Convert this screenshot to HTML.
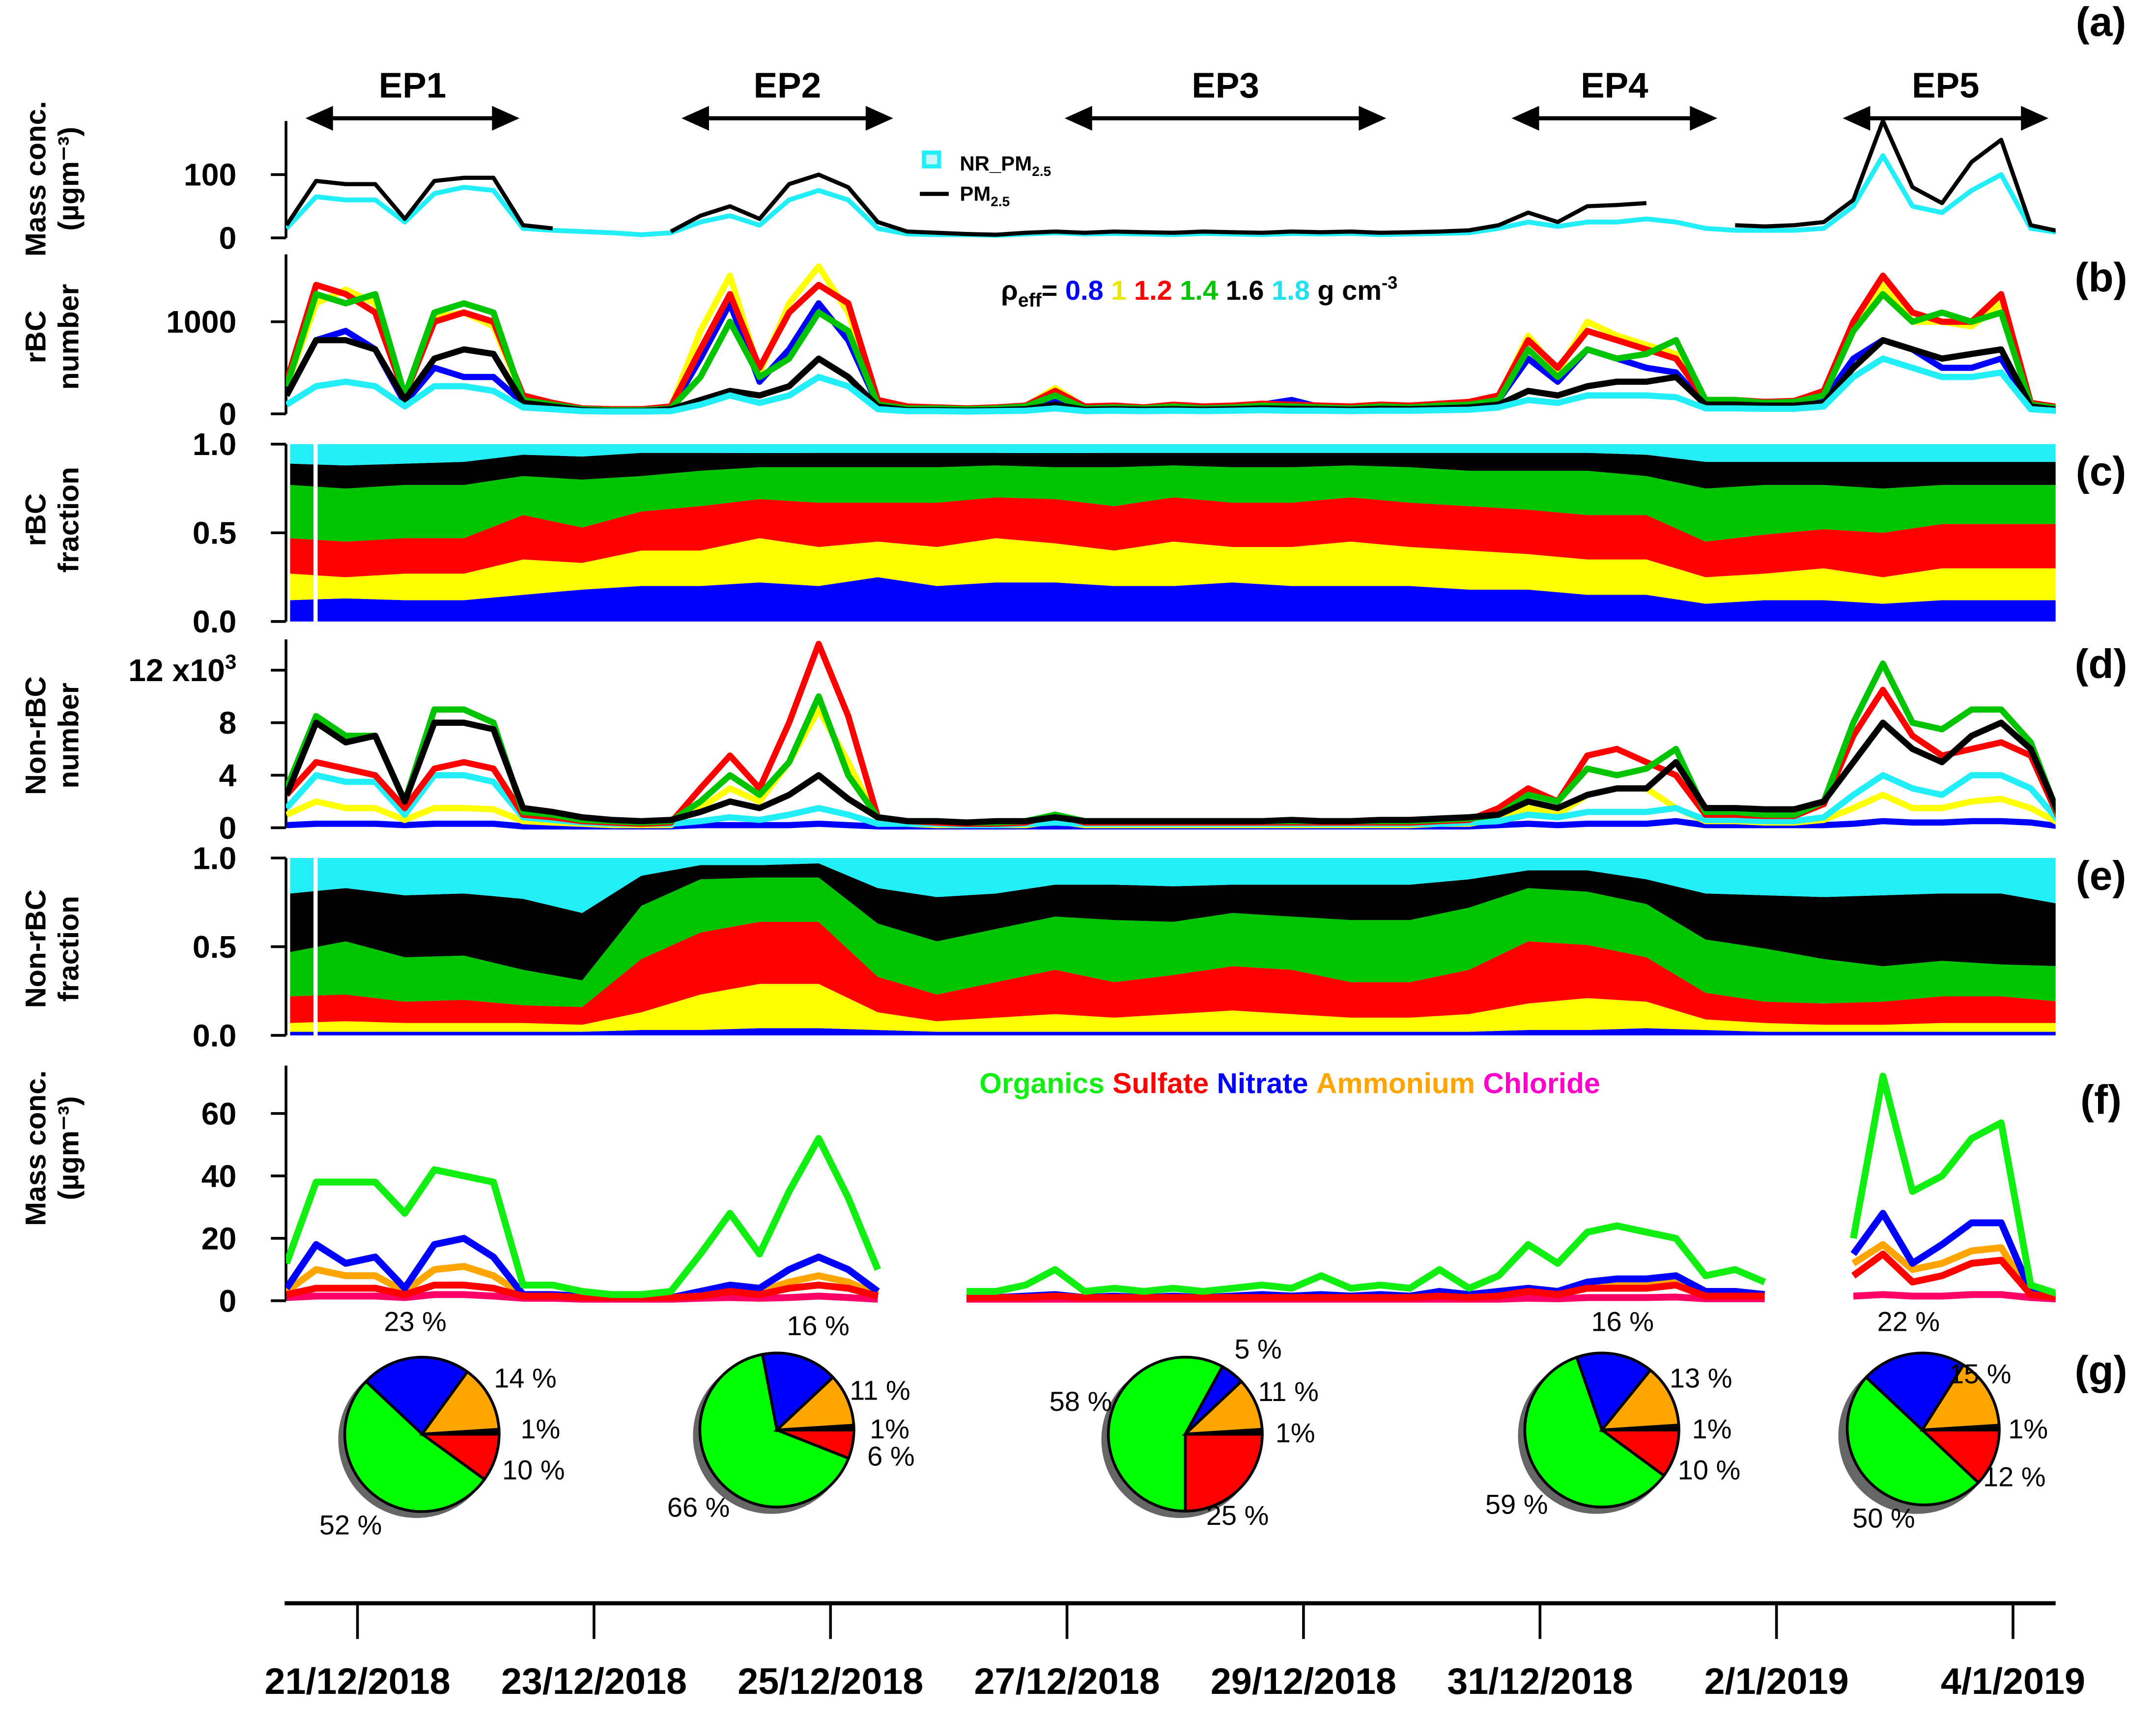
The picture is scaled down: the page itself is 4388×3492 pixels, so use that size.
<!DOCTYPE html>
<html><head><meta charset="utf-8"><title>rBC chart</title>
<style>
html,body{margin:0;padding:0;background:#fff;}
svg{display:block;}
text{font-family:"Liberation Sans Narrow","Liberation Sans",sans-serif;font-weight:bold;}
.tk{font-size:23px;}
.yl{font-family:"Liberation Sans",sans-serif;font-size:21px;font-weight:bold;}
.pl{font-family:"Liberation Sans",sans-serif;font-size:30px;font-weight:bold;}
.pct{font-weight:normal;font-size:20px;}
</style></head>
<body>
<svg id="chart" width="4388" height="3492" viewBox="0 0 1568 1248" preserveAspectRatio="none" xmlns="http://www.w3.org/2000/svg">
<defs><clipPath id="clip"><rect x="208" y="0" width="1287" height="1248"/></clipPath></defs>
<g id="root"></g>
</svg>
<script>
// ---- data (time grid: t = -0.6 + 0.25*i days since 21/12/2018) ----
const pm25 = [20,90,85,85,30,90,95,95,20,15, null,8,null,10,35,50,30,85,100,80, 25,10,8,6,5,8,10,8,10,9, 8,10,9,8,10,9,10,8,9,10, 12,20,40,25,50,52,55,null,null,20, 18,20,25,60,185,80,55,120,155,20,10];
const nrPm25 = [15,65,60,60,25,70,80,75,15,12, 10,8,5,8,25,35,20,60,75,60, 15,6,5,5,4,6,8,6,7,6, 5,7,6,5,7,6,7,5,6,7, 8,15,25,18,25,25,30,25,15,12, 12,12,15,50,130,50,40,75,100,15,8];

const rbcBlue = [200,800,900,700,120,500,400,400,120,80, 40,30,30,50,600,1200,350,700,1200,800, 100,50,50,40,50,70,150,60,80,50, 80,60,70,100,150,70,60,80,70,90, 100,150,600,350,700,600,500,450,100,100, 90,100,150,600,800,700,500,500,600,80,40];
const rbcYellow = [300,1200,1350,1200,180,1050,1100,950,180,110, 55,45,45,70,900,1500,450,1200,1600,1100, 130,70,60,55,60,80,280,70,80,60, 90,70,80,100,90,80,70,90,80,100, 120,180,850,450,1000,850,750,650,140,140, 120,130,220,950,1400,1000,1000,950,1200,110,60];
const rbcRed = [350,1400,1300,1100,200,1000,1100,1000,200,120, 60,50,50,80,700,1300,500,1100,1400,1200, 150,80,70,60,70,90,250,80,90,70, 100,80,90,110,100,90,80,100,90,110, 130,200,800,500,900,800,700,600,150,150, 130,140,250,1000,1500,1100,1000,1000,1300,120,70];
const rbcGreen = [300,1300,1200,1300,200,1100,1200,1100,150,100, 50,40,40,60,400,1000,400,600,1100,900, 100,60,60,50,60,80,200,60,70,60, 80,60,70,90,80,70,60,80,70,90, 100,150,700,400,700,600,650,800,150,150, 120,130,200,900,1300,1000,1100,1000,1100,100,60];
const rbcBlack = [200,800,800,700,150,600,700,650,120,80, 40,30,30,50,150,250,200,300,600,400, 80,40,40,35,40,50,100,45,50,45, 50,45,50,60,55,50,45,55,50,60, 70,100,250,200,300,350,350,400,100,100, 90,90,120,500,800,700,600,650,700,80,40];
const rbcCyan = [100,300,350,300,80,300,300,250,70,50, 30,25,25,30,100,200,120,200,400,300, 50,30,30,25,30,35,60,30,35,30, 35,30,35,40,35,35,30,35,35,40, 45,70,150,120,200,200,200,180,60,60, 55,55,80,400,600,500,400,400,450,50,30];

const nrbBlue = [0.2,0.3,0.3,0.3,0.2,0.3,0.3,0.3,0.1,0.1, 0.1,0.1,0.1,0.1,0.2,0.2,0.2,0.2,0.3,0.2, 0.1,0.1,0.1,0.1,0.1,0.1,0.1,0.1,0.1,0.1, 0.1,0.1,0.1,0.1,0.1,0.1,0.1,0.1,0.1,0.1, 0.1,0.2,0.3,0.2,0.3,0.3,0.3,0.5,0.2,0.2, 0.2,0.2,0.2,0.3,0.5,0.4,0.4,0.5,0.5,0.4,0.1];
const nrbYellow = [1,2,1.5,1.5,0.6,1.5,1.5,1.4,0.5,0.4, 0.3,0.2,0.2,0.2,1.5,3,2,5,9,5, 0.5,0.3,0.2,0.2,0.2,0.2,0.5,0.2,0.2,0.2, 0.2,0.2,0.2,0.2,0.2,0.2,0.2,0.2,0.2,0.3, 0.3,0.7,1.5,1,2.5,3,3,1.5,0.5,0.5, 0.4,0.4,0.6,1.5,2.5,1.5,1.5,2,2.2,1.5,0.3];
const nrbCyan = [1.5,4,3.5,3.5,1,4,4,3.5,0.8,0.6, 0.4,0.3,0.3,0.3,0.5,0.8,0.6,1,1.5,1, 0.3,0.3,0.3,0.2,0.2,0.3,0.4,0.3,0.3,0.3, 0.3,0.3,0.3,0.3,0.3,0.3,0.3,0.3,0.3,0.3, 0.4,0.5,1,0.8,1.2,1.2,1.2,1.5,0.6,0.6, 0.5,0.5,0.8,2.5,4,3,2.5,4,4,3,0.4];
const nrbRed = [2.5,5,4.5,4,1.5,4.5,5,4.5,1,0.8, 0.5,0.4,0.3,0.4,3,5.5,3,8,14,8.5, 0.8,0.5,0.4,0.3,0.3,0.4,1,0.4,0.4,0.4, 0.4,0.4,0.4,0.4,0.4,0.4,0.4,0.4,0.4,0.5, 0.6,1.5,3,2,5.5,6,5,4,1,1, 0.9,0.9,1.8,7,10.5,7,5.5,6,6.5,5.5,0.5];
const nrbGreen = [3,8.5,7,7,2,9,9,8,1.2,1, 0.6,0.5,0.4,0.5,2,4,2.5,5,10,4, 0.8,0.5,0.5,0.4,0.4,0.5,1,0.5,0.5,0.5, 0.5,0.5,0.5,0.5,0.5,0.5,0.5,0.5,0.5,0.6, 0.7,1,2.5,2,4.5,4,4.5,6,1.2,1.2, 1,1,2,8,12.5,8,7.5,9,9,6.5,0.6];
const nrbBlack = [2.5,8,6.5,7,2,8,8,7.5,1.5,1.2, 0.8,0.6,0.5,0.6,1.2,2,1.5,2.5,4,2.2, 0.8,0.5,0.5,0.4,0.5,0.5,0.8,0.5,0.5,0.5, 0.5,0.5,0.5,0.5,0.6,0.5,0.5,0.6,0.6,0.7, 0.8,1,2,1.5,2.5,3,3,5,1.5,1.5, 1.4,1.4,2,5,8,6,5,7,8,6,0.8];

const organics = [12,38,38,38,28,42,40,38,5,5, 3,2,2,3,15,28,15,35,52,33, 10,null,null,3,3,5,10,3,4,3, 4,3,4,5,4,8,4,5,4,10, 4,8,18,12,22,24,22,20,8,10, 6,null,null,20,72,35,40,52,57,5,2];
const nitrate = [4,18,12,14,4,18,20,14,2,2, 1.5,1,1,1,3,5,4,10,14,10, 3,null,null,1,1,1.5,2,1,1.5,1, 1.5,1,1.5,2,1.5,2,1.5,2,1.5,3, 2,3,4,3,6,7,7,8,3,3, 2,null,null,15,28,12,18,25,25,3,1.5];
const ammonium = [3,10,8,8,3,10,11,8,2,1.5, 1,1,1,1,2,4,3,6,8,6, 2,null,null,1,1,1,1.5,1,1,1, 1,1,1,1.5,1,1.5,1,1.5,1,2, 1.5,2,4,3,5,5,5,6,2,2, 2,null,null,12,18,10,12,16,17,2,1];
const sulfate = [2,4,4,4,2,5,5,4,1.5,1.5, 1,1,1,1,1.5,3,2,4,5,4, 1.5,null,null,1,1,1,1.5,1,1,1, 1,1,1,1,1,1,1,1,1,1.5, 1,1.5,3,2,4,4,4,5,1.5,1.5, 1.5,null,null,8,15,6,8,12,13,2,1];
const chloride = [1,1.5,1.5,1.5,1,2,2,1.5,0.8,0.8, 0.5,0.5,0.5,0.5,0.8,1,0.8,1,1.5,1, 0.5,null,null,0.5,0.5,0.5,0.5,0.5,0.5,0.5, 0.5,0.5,0.5,0.5,0.5,0.5,0.5,0.5,0.5,0.5, 0.5,0.5,0.8,0.6,1,1,1,1.2,0.6,0.6, 0.6,null,null,1.5,2,1.5,1.5,2,2,1,0.5];

// fraction grid: t = -0.6 + 0.5*i
const cBlue = [.12,.13,.12,.12,.15,.18,.2,.2,.22,.2,.25,.2,.22,.22,.2,.2,.22,.2,.2,.2,.18,.18,.15,.15,.1,.12,.12,.1,.12,.12,.12];
const cYellow = [.15,.12,.15,.15,.2,.15,.2,.2,.25,.22,.2,.22,.25,.22,.2,.25,.2,.22,.25,.22,.22,.2,.2,.2,.15,.15,.18,.15,.18,.18,.18];
const cRed = [.2,.2,.2,.2,.25,.2,.22,.25,.22,.25,.22,.25,.23,.25,.25,.25,.25,.25,.25,.25,.25,.25,.25,.25,.2,.22,.22,.25,.25,.25,.25];
const cGreen = [.3,.3,.3,.3,.22,.27,.2,.2,.18,.2,.2,.2,.18,.18,.22,.18,.2,.2,.18,.2,.2,.22,.25,.22,.3,.28,.25,.25,.22,.22,.22];
const cBlack = [.12,.13,.12,.13,.12,.13,.13,.1,.08,.08,.08,.08,.07,.08,.08,.07,.08,.08,.07,.08,.1,.1,.1,.12,.15,.13,.13,.15,.13,.13,.13];
const cCyan = [.11,.12,.11,.1,.06,.07,.05,.05,.05,.05,.05,.05,.05,.05,.05,.05,.05,.05,.05,.05,.05,.05,.05,.06,.1,.1,.1,.1,.1,.1,.1];

const eBlue = [.02,.02,.02,.02,.02,.02,.03,.03,.04,.04,.03,.02,.02,.02,.02,.02,.02,.02,.02,.02,.02,.03,.03,.04,.03,.02,.02,.02,.02,.02,.02];
const eYellow = [.05,.06,.05,.05,.05,.04,.1,.2,.25,.25,.1,.06,.08,.1,.08,.1,.12,.1,.08,.08,.1,.15,.18,.15,.06,.05,.04,.04,.05,.05,.05];
const eRed = [.15,.15,.12,.13,.1,.1,.3,.35,.35,.35,.2,.15,.2,.25,.2,.22,.25,.25,.2,.2,.25,.35,.3,.25,.15,.12,.12,.13,.15,.15,.12];
const eGreen = [.25,.3,.25,.25,.2,.15,.3,.3,.25,.25,.3,.3,.3,.3,.35,.3,.3,.3,.35,.35,.35,.3,.3,.3,.3,.3,.25,.2,.2,.18,.2];
const eBlack = [.33,.3,.35,.35,.4,.38,.17,.08,.07,.08,.2,.25,.2,.18,.2,.2,.16,.18,.2,.2,.16,.1,.12,.14,.26,.3,.35,.4,.38,.4,.35];
const eCyan = [.2,.17,.21,.2,.23,.31,.1,.04,.04,.03,.17,.22,.2,.15,.15,.16,.15,.15,.15,.15,.12,.07,.07,.12,.2,.21,.22,.21,.2,.2,.26];

const dateLabels = ["21/12/2018","23/12/2018","25/12/2018","27/12/2018","29/12/2018","31/12/2018","2/1/2019","4/1/2019"];
const dateTicks = [0,2,4,6,8,10,12,14];

const pieNames = ["EP1","EP2","EP3","EP4","EP5"];
const pieSulfate = [10,6,25,10,12];
const pieOrganics = [52,66,58,59,50];
const pieNitrate = [23,16,5,16,22];
const pieAmmonium = [14,11,11,13,15];
const pieChloride = [1,1,1,1,1];

const epStart = [-0.44,2.74,5.98,9.76,12.56];
const epEnd = [1.37,4.53,8.7,11.5,14.3];

// ---- scales ----
const T0 = -0.6, DT = 0.25, DT2 = 0.5;
const X = t => 260 + 86 * t;
const ya = v => 173 - 0.46 * v;
const yb = v => 301 - 0.067 * v;
const yc = f => 452 - 129 * f;
const yd = v => 602 - 9.55 * v;
const ye = f => 753 - 129 * f;
const yf = v => 946 - 2.27 * v;

const NS = "http://www.w3.org/2000/svg";
const root = document.getElementById('root');
function mk(tag, attrs, parent) {
  const e = document.createElementNS(NS, tag);
  for (const k in attrs) e.setAttribute(k, attrs[k]);
  (parent || root).appendChild(e);
  return e;
}
function txt(s, x, y, cls, anchor, parent) {
  const e = mk('text', {x: x, y: y, 'class': cls || 'tk', 'text-anchor': anchor || 'middle'}, parent);
  e.textContent = s;
  return e;
}
function linePath(arr, ys, dt) {
  let d = '', pen = false;
  arr.forEach((v, i) => {
    if (v === null) { pen = false; return; }
    d += (pen ? 'L' : 'M') + X(T0 + dt * i).toFixed(1) + ',' + ys(v).toFixed(1);
    pen = true;
  });
  return d;
}
function drawLine(arr, ys, color, w, name, parent) {
  const p = mk('path', {d: linePath(arr, ys, DT), fill: 'none', stroke: color, 'stroke-width': w, 'stroke-linejoin': 'round'}, parent);
  
  
  return p;
}
function yAxis(top, bottom, ticks, ys, labels, name) {
  const g = mk('g', {});
  
  
  mk('line', {x1: 208, y1: top, x2: 208, y2: bottom, stroke: '#000', 'stroke-width': 2}, g);
  ticks.forEach((v, i) => {
    mk('line', {x1: 197, y1: ys(v), x2: 208, y2: ys(v), stroke: '#000', 'stroke-width': 2}, g);
    txt(labels[i], 172, ys(v) + 8, 'tk', 'end', g);
  });
}
function yTitle(l1, l2, cy, name) {
  const g = mk('g', {transform: 'translate(0,' + cy + ') rotate(-90)'});
  
  
  txt(l1, 0, 33, 'yl', 'middle', g);
  const t2 = txt(l2, 0, 57, 'yl', 'middle', g);
  return t2;
}
function panelLabel(s, y) {
  const t = txt(s, 1528, y, 'pl', 'middle');
  
  
}
function stack(layers, colors, ys, name, x0) {
  const g = mk('g', {'clip-path': 'url(#clip)'});
  
  
  const n = layers[0].length;
  const cum = new Array(n).fill(0);
  layers.forEach((arr, k) => {
    const lo = cum.slice();
    arr.forEach((v, i) => cum[i] += v);
    let d = '';
    for (let i = 0; i < n; i++) d += (i ? 'L' : 'M') + Math.max(x0, X(T0 + DT2 * i)).toFixed(1) + ',' + ys(Math.min(1, cum[i])).toFixed(1);
    for (let i = n - 1; i >= 0; i--) d += 'L' + Math.max(x0, X(T0 + DT2 * i)).toFixed(1) + ',' + ys(lo[i]).toFixed(1);
    const p = mk('path', {d: d + 'Z', fill: colors[k], stroke: 'none'}, g);
    
    
  });
  mk('rect', {x: 228, y: ys(1) - 2, width: 3, height: ys(0) - ys(1) + 4, fill: '#fff'}, g);
}

const BLUE = '#0000ff', YEL = '#ffff00', RED = '#ff0000', GRN = '#00c400', BLK = '#000', CYN = '#22eef8';

// ---- panel (a) ----
yAxis(88, 173, [0, 100], ya, ['0', '100'], 'y-axis-a');
yTitle('Mass conc.', '(µgm\u207B\u00B3)', 130, 'y-axis-title-a');
const ga = mk('g', {'clip-path': 'url(#clip)'});


drawLine(nrPm25, ya, CYN, 3.5, 'nr-pm25-line', ga);
drawLine(pm25, ya, BLK, 3, 'pm25-line', ga);
// legend a
const la = mk('g', {});


mk('rect', {x: 672, y: 111, width: 11, height: 10, fill: '#c8f6fa', stroke: CYN, 'stroke-width': 3}, la);
const t1 = txt('', 698, 124, 'tk', 'start', la); t1.style.fontSize = '15px';
t1.innerHTML = 'NR_PM<tspan dy="4" font-size="10">2.5</tspan>';
mk('line', {x1: 669, y1: 141, x2: 690, y2: 141, stroke: '#000', 'stroke-width': 3}, la);
const t2 = txt('', 698, 146, 'tk', 'start', la); t2.style.fontSize = '15px';
t2.innerHTML = 'PM<tspan dy="4" font-size="10">2.5</tspan>';
// EP arrows
epStart.forEach((s, i) => {
  const g = mk('g', {});
  
  
  const x1 = X(s), x2 = X(epEnd[i]), y = 86;
  mk('line', {x1: x1 + 15, y1: y, x2: x2 - 15, y2: y, stroke: '#000', 'stroke-width': 3}, g);
  mk('polygon', {points: `${x1},${y} ${x1 + 20},${y - 9} ${x1 + 20},${y + 9}`, fill: '#000'}, g);
  mk('polygon', {points: `${x2},${y} ${x2 - 20},${y - 9} ${x2 - 20},${y + 9}`, fill: '#000'}, g);
  const t = txt(pieNames[i], (x1 + x2) / 2, y - 15, 'tk', 'middle', g); t.style.fontSize = '26px';
});
panelLabel('(a)', 26);

// ---- panel (b) ----
yAxis(185, 301, [0, 1000], yb, ['0', '1000'], 'y-axis-b');
yTitle('rBC', 'number', 245, 'y-axis-title-b');
const gb = mk('g', {'clip-path': 'url(#clip)'});


drawLine(rbcBlue, yb, BLUE, 4.5, 'rbc-number-0.8', gb);
drawLine(rbcYellow, yb, YEL, 4.5, 'rbc-number-1.0', gb);
drawLine(rbcRed, yb, RED, 4.5, 'rbc-number-1.2', gb);
drawLine(rbcGreen, yb, GRN, 4.5, 'rbc-number-1.4', gb);
drawLine(rbcBlack, yb, BLK, 4.5, 'rbc-number-1.6', gb);
drawLine(rbcCyan, yb, CYN, 4.5, 'rbc-number-1.8', gb);
const lb = txt('', 728, 218, 'tk', 'start');


lb.style.fontSize = '20px';
lb.innerHTML = 'ρ<tspan dy="5" font-size="14">eff</tspan><tspan dy="-5">= </tspan><tspan fill="#0000ff">0.8 </tspan><tspan fill="#e8e800">1 </tspan><tspan fill="#ff0000">1.2 </tspan><tspan fill="#00c400">1.4 </tspan><tspan fill="#000">1.6 </tspan><tspan fill="#22e0f0">1.8 </tspan>g cm<tspan dy="-8" font-size="13">-3</tspan>';
panelLabel('(b)', 212);

// ---- panel (c) ----
stack([cBlue, cYellow, cRed, cGreen, cBlack, cCyan], [BLUE, YEL, RED, GRN, BLK, CYN], yc, 'rbc-fraction-stack', 211);
yAxis(323, 452, [0, 0.5, 1], yc, ['0.0', '0.5', '1.0'], 'y-axis-c');
yTitle('rBC', 'fraction', 378, 'y-axis-title-c');
panelLabel('(c)', 353);

// ---- panel (d) ----
yAxis(465, 602, [0, 4, 8, 12], yd, ['0', '4', '8', ''], 'y-axis-d');
const t12 = txt('', 172, yd(12) + 8, 'tk', 'end');


t12.innerHTML = '12 x10<tspan dy="-9" font-size="15">3</tspan>';
yTitle('Non-rBC', 'number', 535, 'y-axis-title-d');
const gd = mk('g', {'clip-path': 'url(#clip)'});


drawLine(nrbBlue, yd, BLUE, 4.5, 'nonrbc-number-0.8', gd);
drawLine(nrbYellow, yd, YEL, 4.5, 'nonrbc-number-1.0', gd);
drawLine(nrbCyan, yd, CYN, 4.5, 'nonrbc-number-1.8', gd);
drawLine(nrbRed, yd, RED, 4.5, 'nonrbc-number-1.2', gd);
drawLine(nrbGreen, yd, GRN, 4.5, 'nonrbc-number-1.4', gd);
drawLine(nrbBlack, yd, BLK, 4.5, 'nonrbc-number-1.6', gd);
panelLabel('(d)', 493);

// ---- panel (e) ----
stack([eBlue, eYellow, eRed, eGreen, eBlack, eCyan], [BLUE, YEL, RED, GRN, BLK, CYN], ye, 'nonrbc-fraction-stack', 211);
yAxis(624, 753, [0, 0.5, 1], ye, ['0.0', '0.5', '1.0'], 'y-axis-e');
yTitle('Non-rBC', 'fraction', 690, 'y-axis-title-e');
panelLabel('(e)', 647);

// ---- panel (f) ----
yAxis(775, 946, [0, 20, 40, 60], yf, ['0', '20', '40', '60'], 'y-axis-f');
yTitle('Mass conc.', '(µgm\u207B\u00B3)', 835, 'y-axis-title-f');
const gf = mk('g', {'clip-path': 'url(#clip)'});


drawLine(chloride, yf, '#ff0066', 5, 'chloride-line', gf);
drawLine(ammonium, yf, '#ffa500', 5, 'ammonium-line', gf);
drawLine(nitrate, yf, BLUE, 5, 'nitrate-line', gf);
drawLine(sulfate, yf, RED, 5, 'sulfate-line', gf);
drawLine(organics, yf, '#11ee11', 5, 'organics-line', gf);
const lf = txt('', 938, 795, 'tk', 'middle');


lf.style.fontSize = '21px';
lf.innerHTML = '<tspan fill="#11ee11">Organics </tspan><tspan fill="#ff0000"> Sulfate </tspan><tspan fill="#0000ff"> Nitrate </tspan><tspan fill="#ffa500"> Ammonium </tspan><tspan fill="#ff00cc"> Chloride</tspan>';
panelLabel('(f)', 810);

// ---- panel (g) pies ----
const pieCx = [307, 565, 862, 1165, 1398];
const pieCy = [1043, 1040, 1043, 1040, 1040];
const pieLabelPos = [
  [[302,968],[382,1009],[393,1046],[388,1076],[255,1116]],
  [[595,971],[640,1018],[647,1046],[648,1066],[508,1103]],
  [[915,988],[937,1019],[942,1049],[900,1109],[786,1026]],
  [[1180,968],[1237,1009],[1245,1046],[1243,1076],[1103,1101]],
  [[1388,968],[1440,1006],[1475,1046],[1465,1081],[1370,1111]]
];
function arcPath(cx, cy, r, a0, a1) {
  const p0 = [cx + r * Math.cos(a0), cy + r * Math.sin(a0)], p1 = [cx + r * Math.cos(a1), cy + r * Math.sin(a1)];
  const large = (a1 - a0) > Math.PI ? 1 : 0;
  return `M${cx},${cy}L${p0[0].toFixed(1)},${p0[1].toFixed(1)}A${r},${r} 0 ${large} 1 ${p1[0].toFixed(1)},${p1[1].toFixed(1)}Z`;
}
pieNames.forEach((nm, i) => {
  const g = mk('g', {});
  
  
  const cx = pieCx[i], cy = pieCy[i], r = 56;
  mk('circle', {cx: cx - 4, cy: cy + 4, r: r + 1, fill: '#666'}, g);
  const vals = [pieSulfate[i], pieOrganics[i], pieNitrate[i], pieAmmonium[i], pieChloride[i]];
  const cols = ['#ff0000', '#00ff00', '#0000ff', '#ffa500', '#000000'];
  const names = ['sulfate', 'organics', 'nitrate', 'ammonium', 'chloride'];
  const tot = vals.reduce((a, b) => a + b, 0);
  let a = 0;
  vals.forEach((v, k) => {
    const a1 = a + 2 * Math.PI * v / tot;
    const p = mk('path', {d: arcPath(cx, cy, r, a, a1), fill: cols[k], stroke: '#000', 'stroke-width': 2}, g);
    
    
    a = a1;
  });
  const lv = [pieNitrate[i], pieAmmonium[i], pieChloride[i], pieSulfate[i], pieOrganics[i]];
  lv.forEach((v, k) => {
    txt(v + (v === 1 ? '%' : ' %'), pieLabelPos[i][k][0], pieLabelPos[i][k][1], 'tk pct', 'middle', g);
  });
});
panelLabel('(g)', 1007);

// ---- bottom time axis ----
const gx = mk('g', {});


mk('line', {x1: 207, y1: 1166, x2: 1495, y2: 1166, stroke: '#000', 'stroke-width': 3}, gx);
dateTicks.forEach((d, i) => {
  mk('line', {x1: X(d), y1: 1166, x2: X(d), y2: 1192, stroke: '#000', 'stroke-width': 2}, gx);
  const t = txt(dateLabels[i], X(d), 1232, 'tk', 'middle', gx);
  t.style.fontSize = '27px';
});
</script>
</body></html>
